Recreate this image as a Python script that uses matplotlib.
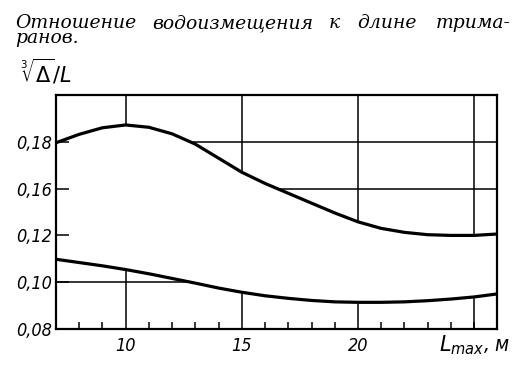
import numpy as np
import matplotlib.pyplot as plt

# длина тримарана, м
L_max = [7, 8, 9, 10, 11, 12, 13, 14, 15, 16, 17, 18, 19, 20, 21, 22, 23, 24, 25, 26]
# верхняя и нижняя граница (в равномерной шкале оси)
verh = [0.1596, 0.1632, 0.1660, 0.1672, 0.1662, 0.1634, 0.1590, 0.1530, 0.1470, 0.1422,
        0.1380, 0.1338, 0.1296, 0.1258, 0.1230, 0.1213, 0.1203, 0.1200, 0.1200, 0.1206]
niz = [0.1098, 0.1084, 0.1070, 0.1054, 0.1036, 0.1016, 0.0996, 0.0975, 0.0957, 0.0942,
       0.0931, 0.0922, 0.0916, 0.0914, 0.0914, 0.0916, 0.0921, 0.0928, 0.0937, 0.0950]

y_ticks = [0.08, 0.10, 0.12, 0.14, 0.16]
y_tick_labels = ['0,08', '0,10', '0,12', '0,16', '0,18']
x_ticks = [10, 15, 20]
x_tick_labels = ['10', '15', '20']
x_grid = [10, 15, 20, 25]
y_grid = [0.10, 0.12, 0.14, 0.16]

fig = plt.figure(figsize=(5.17, 3.66), dpi=100)
ax = fig.add_axes([0.1083, 0.1011, 0.962 - 0.1083, 0.7404 - 0.1011])

tick_font = dict(family='DejaVu Sans', style='italic', stretch='condensed', size=13)

# сетка, потом белая полоса между кривыми её закрывает
for xv in x_grid:
    ax.axvline(xv, color='black', lw=1.1, zorder=1)
for yv in y_grid:
    ax.axhline(yv, color='black', lw=1.1, zorder=1)
ax.fill_between(L_max, niz, verh, color='white', zorder=1.5)

ax.plot(L_max, verh, color='black', lw=2.3, zorder=3, solid_joinstyle='round')
ax.plot(L_max, niz, color='black', lw=2.3, zorder=3, solid_joinstyle='round')

ax.set_xlim(7, 26)
ax.set_ylim(0.08, 0.18)
ax.set_axisbelow(False)

ax.set_xticks(x_ticks)
ax.set_xticklabels(x_tick_labels, **tick_font)
ax.set_xticks(np.arange(8, 26), minor=True)
ax.set_yticks(y_ticks)
ax.set_yticklabels(y_tick_labels, **tick_font)

ax.tick_params(axis='x', which='major', direction='in', length=0, pad=6)
ax.tick_params(axis='x', which='minor', direction='in', length=5, width=1.1)
ax.tick_params(axis='y', which='major', direction='in', length=9, width=1.1, pad=3)

for s in ax.spines.values():
    s.set_linewidth(1.6)

fig.text(20 / 517, 1 - 86 / 366, r'$\sqrt[3]{\Delta}/L$', fontsize=15, ha='left', va='bottom')
fig.text(0.988, 0.025, r'$L_{max}$, м', fontsize=15, ha='right', va='bottom',
         family='DejaVu Sans', style='italic', stretch='condensed')

# заголовок: первое слово и перенос одной надписью, остальные слова по ширине строки
title_font = dict(family='DejaVu Serif', style='italic', size=13.5)
fig.text(15 / 517, 1 - 14 / 366, 'Отношение\nранов.', va='top', linespacing=0.82, **title_font)
for x_px, slovo in [(152, 'водоизмещения'), (329, 'к'), (357, 'длине'), (436, 'трима-')]:
    fig.text(x_px / 517, 1 - 28 / 366, slovo, va='baseline', **title_font)

fig.savefig('out.png', dpi=100)
